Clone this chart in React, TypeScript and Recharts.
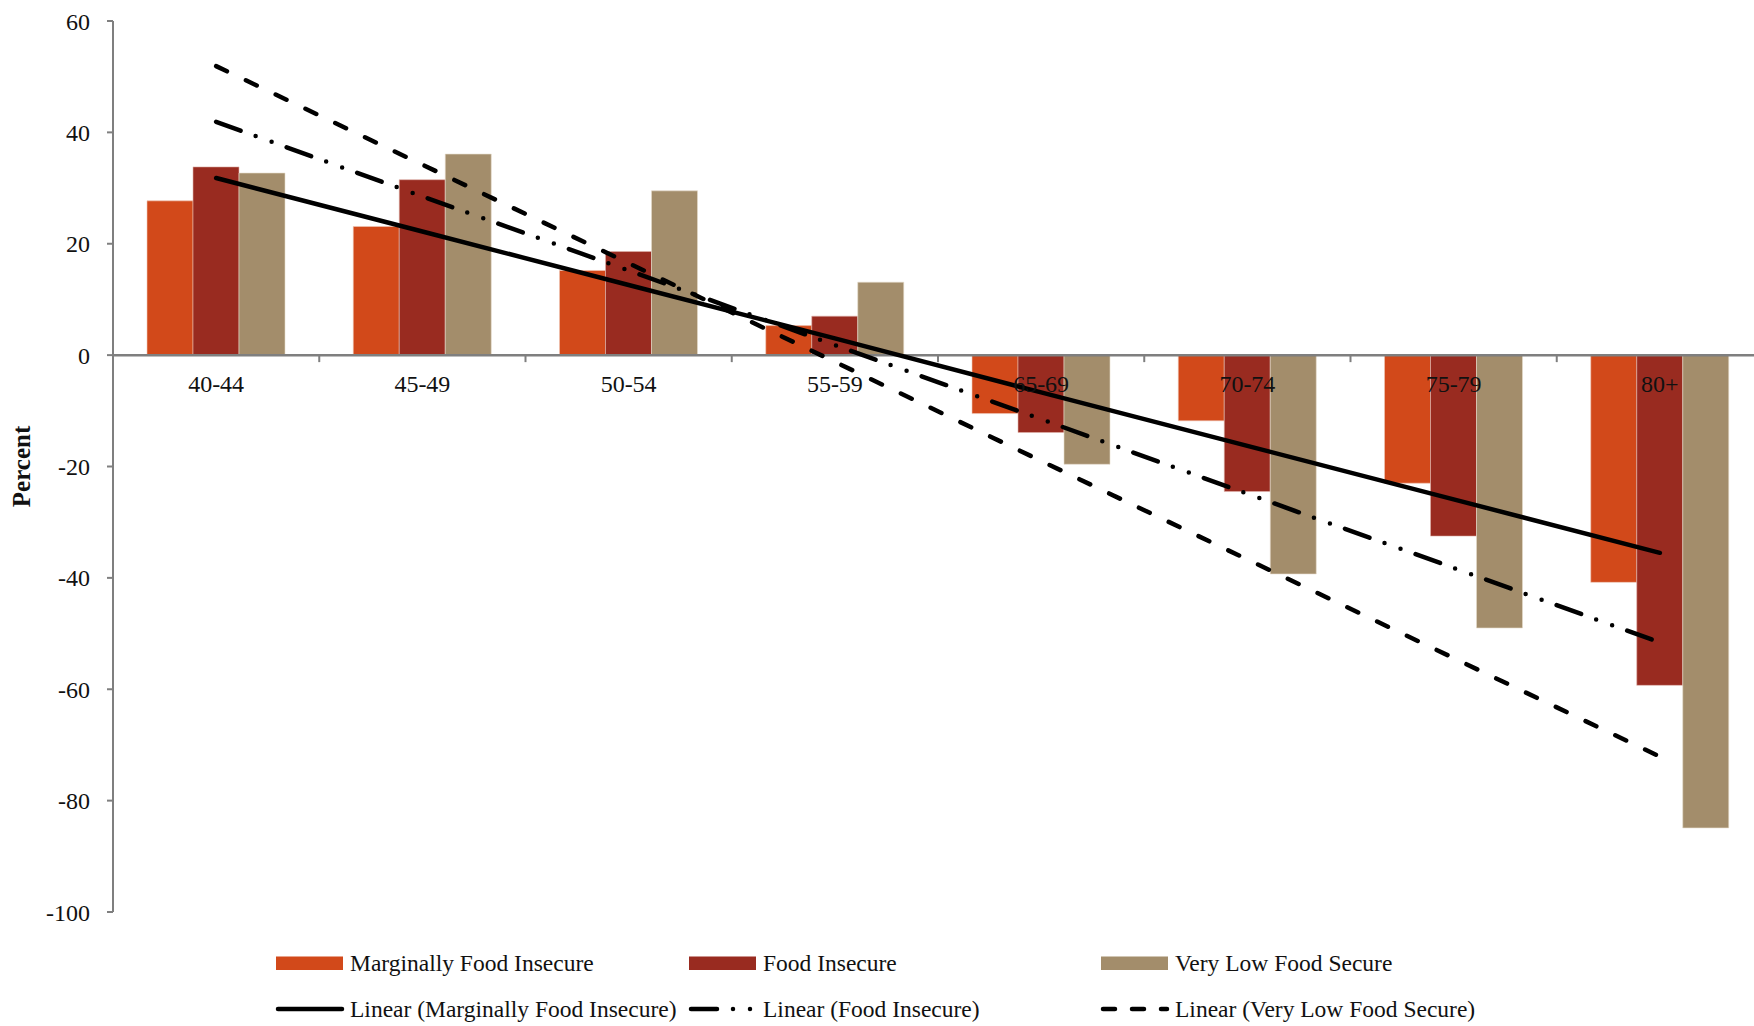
import { Bar, ComposedChart, Line, ReferenceLine, XAxis, YAxis } from "recharts";

// Percent change by age group.
const AGE_GROUPS = ["40-44", "45-49", "50-54", "55-59", "65-69", "70-74", "75-79", "80+"];
const MARGINAL = [27.7, 23.1, 15.2, 5.3, -10.5, -11.8, -23.0, -40.8];
const FOOD_INSECURE = [33.8, 31.5, 18.6, 7.0, -13.9, -24.5, -32.5, -59.3];
const VERY_LOW = [32.7, 36.1, 29.5, 13.1, -19.6, -39.3, -49.0, -84.9];

// Linear trend lines, as drawn in the picture.
const TREND_MARGINAL = [31.8, 22.2, 12.6, 3.0, -6.7, -16.3, -25.9, -35.5];
const TREND_FOOD_INSECURE = [41.9, 28.5, 15.2, 1.8, -11.5, -24.9, -38.2, -51.6];
const TREND_VERY_LOW = [51.9, 34.2, 16.5, -1.2, -19.0, -36.7, -54.4, -72.1];

const Y_TICKS = [-100, -80, -60, -40, -20, 0, 20, 40, 60];

const SERIF = '"Liberation Serif", "Times New Roman", serif';
const INK = "#111";
const AXIS_GRAY = "#7f7f7f";
const COLORS = {
  marginal: "#D2491A",
  insecure: "#992B20",
  veryLow: "#A38D6B",
};
const DASH_DOT = "26 16 0 17 0 16";
const DASHED = "12 21";

const CHART_W = 1770;
const CHART_H = 1026;
const MARGIN = { top: 21, right: 7, bottom: 104, left: 0 };
const X_AXIS_H = 10;
const Y_AXIS_W = 113;
const Y_MIN = -100;
const Y_MAX = 60;
const PLOT_H = CHART_H - MARGIN.top - MARGIN.bottom - X_AXIS_H;
const PLOT_W = CHART_W - MARGIN.left - MARGIN.right - Y_AXIS_W;
const BAND = PLOT_W / AGE_GROUPS.length;
const ZERO_Y = MARGIN.top + (Y_MAX / (Y_MAX - Y_MIN)) * PLOT_H;

const data = AGE_GROUPS.map((age, i) => ({
  age,
  marginal: MARGINAL[i],
  insecure: FOOD_INSECURE[i],
  veryLow: VERY_LOW[i],
  tMarginal: TREND_MARGINAL[i],
  tInsecure: TREND_FOOD_INSECURE[i],
  tVeryLow: TREND_VERY_LOW[i],
}));

// x-axis sits on the zero line: label under the band centre, tick at the band's left edge
function AgeTick(props: any) {
  const { x, payload } = props;
  return (
    <g>
      <line x1={x - BAND / 2} x2={x - BAND / 2} y1={ZERO_Y} y2={ZERO_Y + 7} stroke={AXIS_GRAY} strokeWidth={2} />
      <text x={x} y={ZERO_Y + 29} textAnchor="middle" dominantBaseline="central" fill={INK} fontSize={24} fontFamily={SERIF}>
        {payload.value}
      </text>
    </g>
  );
}

function PercentLabel() {
  const cy = MARGIN.top + PLOT_H / 2;
  return (
    <text
      x={21}
      y={cy}
      transform={`rotate(-90, 21, ${cy})`}
      textAnchor="middle"
      dominantBaseline="central"
      fill={INK}
      fontSize={25}
      fontWeight="bold"
      fontFamily={SERIF}
    >
      Percent
    </text>
  );
}

const LEGEND_BARS = [
  { name: "Marginally Food Insecure", color: COLORS.marginal, x: 276 },
  { name: "Food Insecure", color: COLORS.insecure, x: 689 },
  { name: "Very Low Food Secure", color: COLORS.veryLow, x: 1101 },
];
const LEGEND_LINES = [
  { name: "Linear (Marginally Food Insecure)", dash: undefined, x: 276 },
  { name: "Linear (Food Insecure)", dash: DASH_DOT, x: 689 },
  { name: "Linear (Very Low Food Secure)", dash: "12 17", x: 1101 },
];

function ChartLegend() {
  return (
    <svg width={1754} height={96} style={{ position: "absolute", left: 0, top: 930 }}>
      {LEGEND_BARS.map((it) => (
        <g key={it.name}>
          <rect x={it.x} y={26.5} width={67} height={13.5} fill={it.color} />
          <text x={it.x + 74} y={33} dominantBaseline="central" fill={INK} fontSize={23.5} fontFamily={SERIF}>
            {it.name}
          </text>
        </g>
      ))}
      {LEGEND_LINES.map((it) => (
        <g key={it.name}>
          <line
            x1={it.x + 2}
            x2={it.x + 66}
            y1={79}
            y2={79}
            stroke="#000"
            strokeWidth={4.5}
            strokeLinecap="round"
            strokeDasharray={it.dash}
          />
          <text x={it.x + 74} y={79} dominantBaseline="central" fill={INK} fontSize={23.5} fontFamily={SERIF}>
            {it.name}
          </text>
        </g>
      ))}
    </svg>
  );
}

export default function App() {
  return (
    <div
      style={{
        position: "absolute",
        left: 0,
        top: 0,
        width: 1754,
        height: 1026,
        overflow: "hidden",
        background: "#fff",
      }}
    >
      <ComposedChart
        width={CHART_W}
        height={CHART_H}
        data={data}
        margin={MARGIN}
        barCategoryGap={34}
        barGap={0}
      >
        <XAxis
          dataKey="age"
          height={X_AXIS_H}
          axisLine={false}
          tickLine={false}
          interval={0}
          tick={(p: any) => <AgeTick {...p} />}
        />
        <YAxis
          width={Y_AXIS_W}
          domain={[Y_MIN, Y_MAX]}
          ticks={Y_TICKS}
          allowDataOverflow
          stroke={AXIS_GRAY}
          strokeWidth={2}
          tickSize={6}
          tickMargin={17}
          tick={{ fill: INK, fontSize: 24, fontFamily: SERIF }}
          label={{ content: () => <PercentLabel /> }}
        />
        <Bar dataKey="marginal" fill={COLORS.marginal} stroke="#f0c9b8" strokeWidth={0.6} isAnimationActive={false} />
        <Bar dataKey="insecure" fill={COLORS.insecure} stroke="#e0b5ad" strokeWidth={0.6} isAnimationActive={false} />
        <Bar dataKey="veryLow" fill={COLORS.veryLow} stroke="#e6dccb" strokeWidth={0.6} isAnimationActive={false} />
        <ReferenceLine y={0} stroke={AXIS_GRAY} strokeWidth={2.5} />
        <Line
          dataKey="tMarginal"
          type="linear"
          stroke="#000"
          strokeWidth={4.5}
          strokeLinecap="round"
          dot={false}
          activeDot={false}
          isAnimationActive={false}
        />
        <Line
          dataKey="tInsecure"
          type="linear"
          stroke="#000"
          strokeWidth={4.5}
          strokeLinecap="round"
          strokeDasharray={DASH_DOT}
          dot={false}
          activeDot={false}
          isAnimationActive={false}
        />
        <Line
          dataKey="tVeryLow"
          type="linear"
          stroke="#000"
          strokeWidth={4.5}
          strokeLinecap="round"
          strokeDasharray={DASHED}
          dot={false}
          activeDot={false}
          isAnimationActive={false}
        />
      </ComposedChart>
      <ChartLegend />
    </div>
  );
}
